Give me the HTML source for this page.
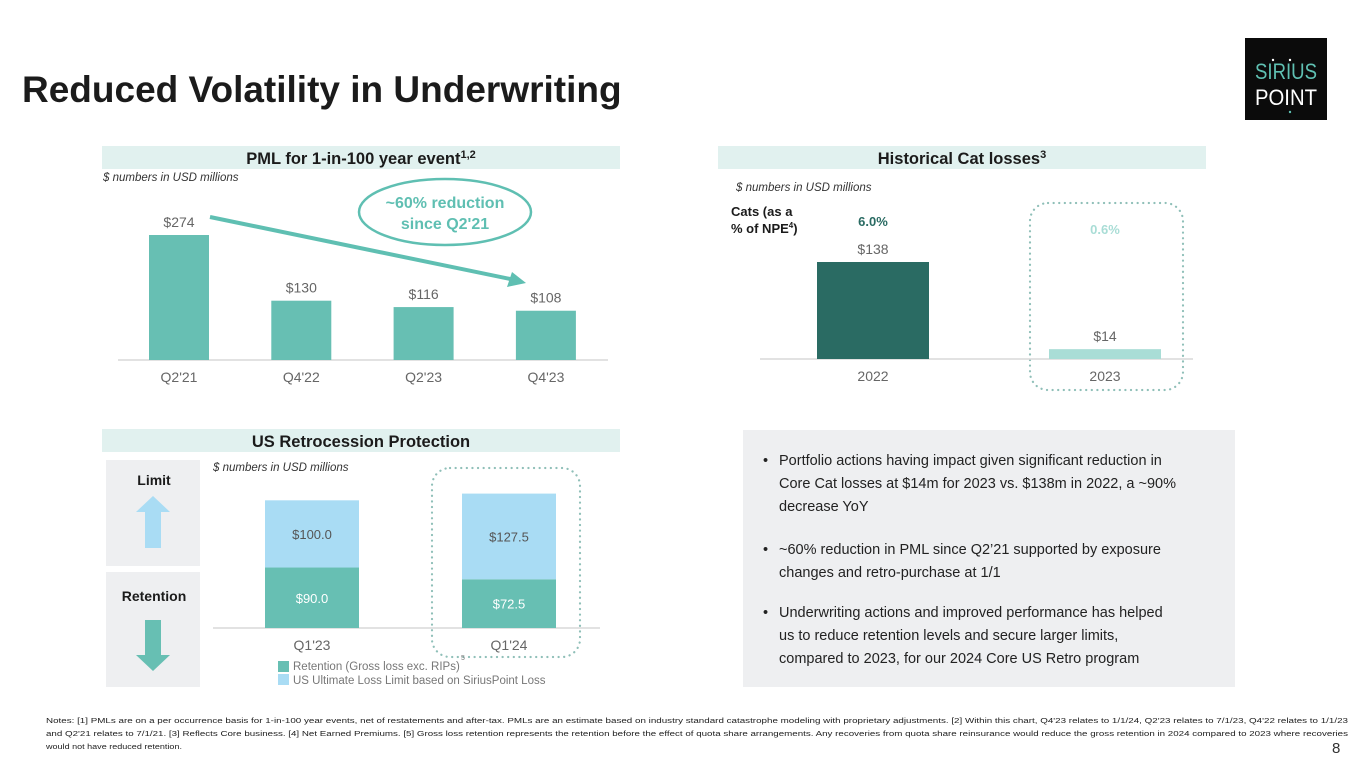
<!DOCTYPE html>
<html><head><meta charset="utf-8"><style>
html,body{margin:0;padding:0;background:#fff;}
svg{display:block;font-family:"Liberation Sans",sans-serif;}
</style></head><body>
<svg id="s" width="1365" height="767" viewBox="0 0 1365 767">
<text x="22" y="102" font-size="37" font-weight="bold" fill="#1b1b1b">Reduced Volatility in Underwriting</text>
<g>
<rect x="1245" y="38" width="82" height="82" fill="#0b0b0b"/>
<text x="1286" y="79" font-size="22" fill="#5fc0b2" text-anchor="middle" textLength="62" lengthAdjust="spacingAndGlyphs">SIRIUS</text>
<text x="1286" y="105" font-size="22" fill="#fff" text-anchor="middle" textLength="62" lengthAdjust="spacingAndGlyphs">POINT</text>
<circle cx="1273" cy="60" r="1.2" fill="#fff"/><circle cx="1290" cy="60" r="1.2" fill="#fff"/><circle cx="1290" cy="112" r="1.2" fill="#5fc0b2"/>
</g>

<!-- PML -->
<rect x="102" y="146" width="518" height="23" fill="#e1f1ef"/>
<text x="361" y="164" font-size="16.5" font-weight="bold" text-anchor="middle" fill="#1b1b1b">PML for 1-in-100 year event<tspan font-size="11" dy="-6">1,2</tspan></text>
<text x="103" y="181" font-size="11.5" font-style="italic" fill="#333">$ numbers in USD millions</text>
<g id="pml"></g>
<line x1="210" y1="217" x2="515" y2="280" stroke="#5fbfb2" stroke-width="4"/>
<polygon points="526,283 507,287 512,272" fill="#5fbfb2"/>
<ellipse cx="445" cy="212" rx="86" ry="33" fill="#fff" stroke="#5fbfb2" stroke-width="2.5"/>
<text x="445" y="208" font-size="16" font-weight="bold" fill="#5fbfb2" text-anchor="middle">~60% reduction</text>
<text x="445" y="229" font-size="16" font-weight="bold" fill="#5fbfb2" text-anchor="middle">since Q2'21</text>

<!-- Cat -->
<rect x="718" y="146" width="488" height="23" fill="#e1f1ef"/>
<text x="962" y="164" font-size="16.5" font-weight="bold" text-anchor="middle" fill="#1b1b1b">Historical Cat losses<tspan font-size="11" dy="-6">3</tspan></text>
<text x="736" y="191" font-size="11.5" font-style="italic" fill="#333">$ numbers in USD millions</text>
<text x="731" y="216" font-size="13" font-weight="bold" fill="#1b1b1b">Cats (as a</text>
<text x="731" y="233" font-size="13" font-weight="bold" fill="#1b1b1b">% of NPE<tspan font-size="8" dy="-5">4</tspan><tspan dy="5">)</tspan></text>
<rect x="1030" y="203" width="153" height="187" rx="18" fill="none" stroke="#8fbfb8" stroke-width="2.2" stroke-dasharray="0.1,5.5" stroke-linecap="round"/>
<g id="cat"></g>

<!-- Retro -->
<rect x="102" y="429" width="518" height="23" fill="#e1f1ef"/>
<text x="361" y="447" font-size="16.5" font-weight="bold" text-anchor="middle" fill="#1b1b1b">US Retrocession Protection</text>
<rect x="106" y="460" width="94" height="106" fill="#eeeff1"/>
<rect x="106" y="572" width="94" height="115" fill="#eeeff1"/>
<text x="154" y="485" font-size="14" font-weight="bold" text-anchor="middle" fill="#1b1b1b">Limit</text>
<polygon points="153,496 170,512 161,512 161,548 145,548 145,512 136,512" fill="#a9dcf4"/>
<text x="154" y="601" font-size="14" font-weight="bold" text-anchor="middle" fill="#1b1b1b">Retention</text>
<polygon points="145,620 161,620 161,655 170,655 153,671 136,655 145,655" fill="#67bfb3"/>
<text x="213" y="471" font-size="11.5" font-style="italic" fill="#333">$ numbers in USD millions</text>
<rect x="432" y="468" width="148" height="189" rx="18" fill="none" stroke="#8fbfb8" stroke-width="2.2" stroke-dasharray="0.1,5.5" stroke-linecap="round"/>
<text x="461" y="660" font-size="7" fill="#777">5</text>
<g id="retro"></g>
<rect x="278" y="661" width="11" height="11" fill="#67bfb3"/>
<text x="293" y="670" font-size="11.5" fill="#777">Retention (Gross loss exc. RIPs)</text>
<rect x="278" y="674" width="11" height="11" fill="#a9dcf4"/>
<text x="293" y="684" font-size="11.5" fill="#777">US Ultimate Loss Limit based on SiriusPoint Loss</text>

<!-- bullets -->
<rect x="743" y="430" width="492" height="257" fill="#eeeff1"/>
<g font-size="14.5" fill="#222">
<text x="763" y="465">•</text><text x="779" y="465">Portfolio actions having impact given significant reduction in</text>
<text x="779" y="488">Core Cat losses at $14m for 2023 vs. $138m in 2022, a ~90%</text>
<text x="779" y="511">decrease YoY</text>
<text x="763" y="554">•</text><text x="779" y="554">~60% reduction in PML since Q2’21 supported by exposure</text>
<text x="779" y="577">changes and retro-purchase at 1/1</text>
<text x="763" y="617">•</text><text x="779" y="617">Underwriting actions and improved performance has helped</text>
<text x="779" y="640">us to reduce retention levels and secure larger limits,</text>
<text x="779" y="663">compared to 2023, for our 2024 Core US Retro program</text>
</g>

<g font-size="7.6" fill="#222">
<text x="46" y="723" textLength="1302" lengthAdjust="spacingAndGlyphs">Notes: [1] PMLs are on a per occurrence basis for 1-in-100 year events, net of restatements and after-tax. PMLs are an estimate based on industry standard catastrophe modeling with proprietary adjustments. [2] Within this chart, Q4'23 relates to 1/1/24, Q2'23 relates to 7/1/23, Q4'22 relates to 1/1/23</text>
<text x="46" y="736" textLength="1302" lengthAdjust="spacingAndGlyphs">and Q2'21 relates to 7/1/21. [3] Reflects Core business. [4] Net Earned Premiums. [5] Gross loss retention represents the retention before the effect of quota share arrangements. Any recoveries from quota share reinsurance would reduce the gross retention in 2024 compared to 2023 where recoveries</text>
<text x="46" y="749" textLength="136" lengthAdjust="spacingAndGlyphs">would not have reduced retention.</text>
</g>
<text x="1332" y="753" font-size="15" fill="#333">8</text>
</svg>
<script>
const pmlCategories=["Q2'21","Q4'22","Q2'23","Q4'23"];
const pmlValues=[274,130,116,108];
const catCategories=["2022","2023"];
const catValues=[138,14];
const catPctLabels=["6.0%","0.6%"];
const retroCategories=["Q1'23","Q1'24"];
const retroRetention=[90.0,72.5];
const retroLimit=[100.0,127.5];

const NS="http://www.w3.org/2000/svg";
function mk(parent,tag,attrs,txt){const e=document.createElementNS(NS,tag);for(const k in attrs)e.setAttribute(k,attrs[k]);if(txt!==undefined)e.textContent=txt;parent.appendChild(e);return e;}

// PML
(function(){
const g=document.getElementById('pml');
const base=360,scale=125/274;
const xc=i=>179+i*122.3;
mk(g,'line',{x1:118,y1:base,x2:608,y2:base,stroke:'#d9d9d9','stroke-width':1.5});
pmlValues.forEach((v,i)=>{
 const h=v*scale;
 const r=mk(g,'rect',{x:xc(i)-30,y:base-h,width:60,height:h,fill:'#67bfb3'});
 
 
 const t=mk(g,'text',{x:xc(i),y:base-h-8,'font-size':14,fill:'#666','text-anchor':'middle'},'$'+v);
 
 
 const c=mk(g,'text',{x:xc(i),y:base+22,'font-size':14,fill:'#666','text-anchor':'middle'},pmlCategories[i]);
 
 
});
})();

// Cat
(function(){
const g=document.getElementById('cat');
const base=359,scale=97/138;
const xc=i=>873+i*232;
const fills=['#2a6b63','#a9ddd6'];
const pctFill=['#2a6b63','#a9ddd6'];
mk(g,'line',{x1:760,y1:base,x2:1193,y2:base,stroke:'#d9d9d9','stroke-width':1.5});
catValues.forEach((v,i)=>{
 const h=v*scale;
 const r=mk(g,'rect',{x:xc(i)-56,y:base-h,width:112,height:h,fill:fills[i]});
 
 
 const t=mk(g,'text',{x:xc(i),y:base-h-8,'font-size':14,fill:'#666','text-anchor':'middle'},'$'+v);
 
 
 const p=mk(g,'text',{x:xc(i),y:i===0?226:234,'font-size':13,'font-weight':'bold',fill:pctFill[i],'text-anchor':'middle'},catPctLabels[i]);
 
 
 const c=mk(g,'text',{x:xc(i),y:base+22,'font-size':14,fill:'#666','text-anchor':'middle'},catCategories[i]);
 
 
});
})();

// Retro
(function(){
const g=document.getElementById('retro');
const base=628,scale=0.672;
const xc=i=>312+i*197;
mk(g,'line',{x1:213,y1:base,x2:600,y2:base,stroke:'#d9d9d9','stroke-width':1.5});
retroCategories.forEach((cat,i)=>{
 const h1=retroRetention[i]*scale,h2=retroLimit[i]*scale;
 const r1=mk(g,'rect',{x:xc(i)-47,y:base-h1,width:94,height:h1,fill:'#67bfb3'});
 
 
 const r2=mk(g,'rect',{x:xc(i)-47,y:base-h1-h2,width:94,height:h2,fill:'#a9dcf4'});
 
 
 const t1=mk(g,'text',{x:xc(i),y:base-h1/2+5,'font-size':13,fill:'#fff','text-anchor':'middle'},'$'+retroRetention[i].toFixed(1));
 
 
 const t2=mk(g,'text',{x:xc(i),y:base-h1-h2/2+5,'font-size':13,fill:'#555','text-anchor':'middle'},'$'+retroLimit[i].toFixed(1));
 
 
 const c=mk(g,'text',{x:xc(i),y:base+22,'font-size':14,fill:'#666','text-anchor':'middle'},cat);
 
 
});
})();
</script>
</body></html>
